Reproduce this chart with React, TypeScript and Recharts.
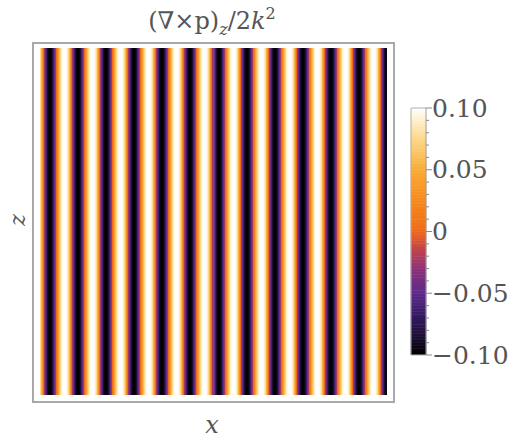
import React from 'react';
import { BarChart, Bar, XAxis, YAxis, Cell, ReferenceLine } from 'recharts';

// curl value per pixel column of the density plot (left to right)
const curlByColumn: number[] = [
  0.075, 0.055, 0.03, 0, -0.025, -0.045, -0.065, -0.085, -0.095, -0.1, -0.1, -0.095, -0.085, -0.065, -0.045, -0.025, 0, 0.02, 0.04, 0.06, 0.075, 0.088, 0.097, 0.1, 0.1, 0.1, 0.097, 0.088,
  0.075, 0.055, 0.03, 0, -0.025, -0.045, -0.065, -0.085, -0.095, -0.1, -0.1, -0.095, -0.085, -0.065, -0.045, -0.025, 0, 0.02, 0.04, 0.06, 0.075, 0.088, 0.097, 0.1, 0.1, 0.1, 0.097, 0.088,
  0.075, 0.055, 0.03, 0, -0.025, -0.045, -0.065, -0.085, -0.095, -0.1, -0.1, -0.095, -0.085, -0.065, -0.045, -0.025, 0, 0.02, 0.04, 0.06, 0.075, 0.088, 0.097, 0.1, 0.1, 0.1, 0.097, 0.088,
  0.075, 0.055, 0.03, 0, -0.025, -0.045, -0.065, -0.085, -0.095, -0.1, -0.1, -0.095, -0.085, -0.065, -0.045, -0.025, 0, 0.02, 0.04, 0.06, 0.075, 0.088, 0.097, 0.1, 0.1, 0.1, 0.097, 0.088,
  0.075, 0.055, 0.03, 0, -0.025, -0.045, -0.065, -0.085, -0.095, -0.1, -0.1, -0.095, -0.085, -0.065, -0.045, -0.025, 0, 0.02, 0.04, 0.06, 0.075, 0.088, 0.097, 0.1, 0.1, 0.1, 0.097, 0.088,
  0.075, 0.055, 0.03, 0, -0.025, -0.045, -0.065, -0.085, -0.095, -0.1, -0.1, -0.095, -0.085, -0.065, -0.045, -0.025, 0, 0.02, 0.04, 0.06, 0.075, 0.088, 0.097, 0.1, 0.1, 0.1, 0.097, 0.088,
  0.075, 0.055, 0.03, 0, -0.025, -0.045, -0.065, -0.085, -0.095, -0.1, -0.1, -0.095, -0.085, -0.065, -0.045, -0.025, 0, 0.02, 0.04, 0.06, 0.075, 0.088, 0.097, 0.1, 0.1, 0.1, 0.097, 0.088,
  0.075, 0.055, 0.03, 0, -0.025, -0.045, -0.065, -0.085, -0.095, -0.1, -0.1, -0.095, -0.085, -0.065, -0.045, -0.025, 0, 0.02, 0.04, 0.06, 0.075, 0.088, 0.097, 0.1, 0.1, 0.1, 0.097, 0.088,
  0.075, 0.055, 0.03, 0, -0.025, -0.045, -0.065, -0.085, -0.095, -0.1, -0.1, -0.095, -0.085, -0.065, -0.045, -0.025, 0, 0.02, 0.04, 0.06, 0.075, 0.088, 0.097, 0.1, 0.1, 0.1, 0.097, 0.088,
  0.075, 0.055, 0.03, 0, -0.025, -0.045, -0.065, -0.085, -0.095, -0.1, -0.1, -0.095, -0.085, -0.065, -0.045, -0.025, 0, 0.02, 0.04, 0.06, 0.075, 0.088, 0.097, 0.1, 0.1, 0.1, 0.097, 0.088,
  0.075, 0.055, 0.03, 0, -0.025, -0.045, -0.065, -0.085, -0.095, -0.1, -0.1, -0.095, -0.085, -0.065, -0.045, -0.025, 0, 0.02, 0.04, 0.06, 0.075, 0.088, 0.097, 0.1, 0.1, 0.1, 0.097, 0.088,
  0.075, 0.055, 0.03, 0, -0.025, -0.045, -0.065, -0.085, -0.095, -0.1, -0.1, -0.095, -0.085, -0.065, -0.045, -0.025, 0, 0.02, 0.04, 0.06, 0.075, 0.088, 0.097, 0.1, 0.1, 0.1, 0.097, 0.088,
  0.075, 0.055, 0.03, 0, -0.025, -0.045, -0.065, -0.085, -0.095,
];

// colour scale (value -> colour)
const scaleValues = [-0.1, -0.085, -0.07, -0.05, -0.03, -0.015, 0, 0.025, 0.05, 0.075, 0.09, 0.1];
const scaleColors = ['#000000', '#1c0f36', '#33195e', '#5e2a8c', '#8e3276', '#c0444c', '#ee6a1a', '#f58a1e', '#f9ac36', '#fcd88a', '#feefcc', '#ffffff'];

const colorbarTicks = [-0.1, -0.09, -0.08, -0.07, -0.06, -0.05, -0.04, -0.03, -0.02, -0.01, 0, 0.01, 0.02, 0.03, 0.04, 0.05, 0.06, 0.07, 0.08, 0.09, 0.1];
const colorbarMajor = [-0.1, -0.05, 0, 0.05, 0.1];
const colorbarLabels = ['\u22120.10', '\u22120.05', '0', '0.05', '0.10'];

const hexToRgb = (h: string) => [1, 3, 5].map(i => parseInt(h.slice(i, i + 2), 16));

const curlColor = (v: number) => {
  if (v <= scaleValues[0]) return scaleColors[0];
  for (let i = 1; i < scaleValues.length; i++) {
    if (v <= scaleValues[i]) {
      const t = (v - scaleValues[i - 1]) / (scaleValues[i] - scaleValues[i - 1]);
      const a = hexToRgb(scaleColors[i - 1]);
      const b = hexToRgb(scaleColors[i]);
      const c = a.map((x, k) => Math.round(x + (b[k] - x) * t));
      return `rgb(${c[0]},${c[1]},${c[2]})`;
    }
  }
  return scaleColors[scaleColors.length - 1];
};

const columnData = curlByColumn.map((v, i) => ({ col: i, v, h: 1 }));

// legend bar: 40 slices below zero, 40 above, stacked
const legendSlices: { key: string; size: number; color: string }[] = [];
for (let i = 0; i < 40; i++) legendSlices.push({ key: `n${i}`, size: -0.0025, color: curlColor(-(i + 0.5) * 0.0025) });
for (let i = 0; i < 40; i++) legendSlices.push({ key: `p${i}`, size: 0.0025, color: curlColor((i + 0.5) * 0.0025) });
const legendRow: Record<string, any> = { name: 'bar' };
legendSlices.forEach(s => { legendRow[s.key] = s.size; });

const textGray = '#555555';
const serif = '"DejaVu Serif", serif';

const ColorbarTick = (props: any) => {
  const { x, y, payload } = props;
  const idx = colorbarMajor.findIndex(m => Math.abs(m - payload.value) < 1e-9);
  const major = idx >= 0;
  return (
    <g>
      <line x1={x} x2={x + (major ? 6 : 3)} y1={y} y2={y} stroke="#8a8a8a" strokeWidth={1} />
      {major && (
        <text x={x + 6} y={y} dominantBaseline="central" fontFamily={serif} fontSize={25} fill={textGray}>
          {colorbarLabels[idx]}
        </text>
      )}
    </g>
  );
};

export default function App() {
  return (
    <div style={{ position: 'absolute', left: 0, top: 0, width: 512, height: 442, background: '#fff', fontFamily: serif, color: textGray }}>
      <div style={{ position: 'absolute', left: 0, top: 0 }}>
        <BarChart width={512} height={442} data={columnData} margin={{ top: 48, right: 125, bottom: 48, left: 40 }} barCategoryGap={0} barGap={0}>
          <XAxis dataKey="col" hide />
          <YAxis hide domain={[0, 1]} />
          <Bar dataKey="h" barSize={2} isAnimationActive={false}>
            {columnData.map(d => (
              <Cell key={d.col} fill={curlColor(d.v)} stroke={curlColor(d.v)} strokeWidth={1} shapeRendering="crispEdges" />
            ))}
          </Bar>
        </BarChart>
      </div>

      {/* plot frame */}
      <div style={{ position: 'absolute', left: 32, top: 42, width: 363, height: 361, boxSizing: 'border-box', border: '2px solid #a8a8a8' }} />

      <div style={{ position: 'absolute', left: 400, top: 90 }}>
        <BarChart width={112} height={290} data={[legendRow]} margin={{ top: 18, right: 0, bottom: 25, left: 10 }} stackOffset="sign" barCategoryGap={0} barGap={0}>
          <XAxis dataKey="name" hide />
          <YAxis yAxisId="l" orientation="left" width={1} type="number" domain={[-0.1, 0.1]} allowDataOverflow tick={false} tickLine={false} axisLine={{ stroke: '#b0b0b0' }} />
          <YAxis
            yAxisId="r"
            orientation="right"
            width={86}
            type="number"
            domain={[-0.1, 0.1]}
            allowDataOverflow
            ticks={colorbarTicks}
            interval={0}
            tickSize={0}
            tickMargin={0}
            tick={<ColorbarTick />}
            axisLine={{ stroke: '#a0a0a0' }}
          />
          {legendSlices.map(s => (
            <Bar key={s.key} dataKey={s.key} stackId="cb" yAxisId="r" fill={s.color} stroke={s.color} strokeWidth={0.6} isAnimationActive={false} />
          ))}
          <ReferenceLine yAxisId="r" y={0.1} stroke="#b0b0b0" />
          <ReferenceLine yAxisId="r" y={-0.1} stroke="#b0b0b0" />
        </BarChart>
      </div>

      {/* title */}
      <div style={{ position: 'absolute', left: 0, width: 424, top: 9, textAlign: 'center', fontSize: 24, lineHeight: '24px', whiteSpace: 'nowrap' }}>
        (∇×p)<span style={{ fontStyle: 'italic', fontSize: 16, position: 'relative', top: 6 }}>z</span>/2<span style={{ fontStyle: 'italic' }}>k</span>
        <span style={{ fontSize: 16, position: 'relative', top: -10 }}>2</span>
      </div>

      {/* axis labels */}
      <div style={{ position: 'absolute', left: 0, width: 424, top: 413, textAlign: 'center', fontSize: 24, lineHeight: '24px', fontStyle: 'italic' }}>x</div>
      <div style={{ position: 'absolute', left: 6, top: 208, width: 24, height: 24, textAlign: 'center', fontSize: 22, lineHeight: '24px', fontStyle: 'italic', transform: 'rotate(-90deg)' }}>z</div>
    </div>
  );
}
